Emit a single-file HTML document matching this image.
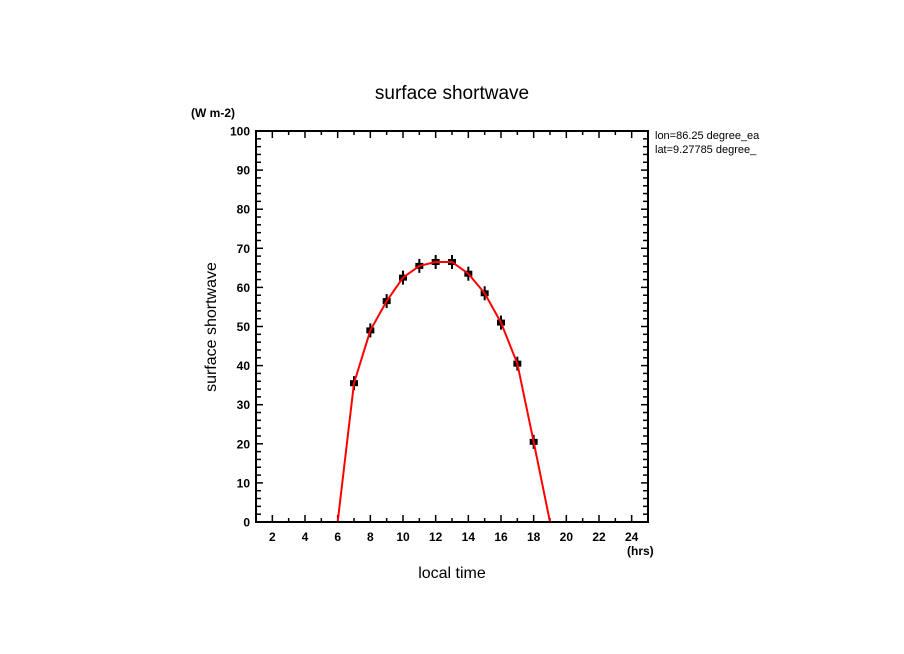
<!DOCTYPE html>
<html><head><meta charset="utf-8"><style>
body{margin:0;background:#fff}
svg{display:block;font-family:"Liberation Sans",sans-serif}
</style></head><body>
<svg id="chart" width="904" height="654" xmlns="http://www.w3.org/2000/svg">
<text x="452" y="99" font-size="19" text-anchor="middle">surface shortwave</text>
<text x="191" y="117" font-size="12" font-weight="bold">(W m-2)</text>
<text x="655" y="139" font-size="11">lon=86.25 degree_ea</text>
<text x="655" y="153" font-size="11">lat=9.27785 degree_</text>
<text x="627" y="555" font-size="12" font-weight="bold">(hrs)</text>
<text x="452" y="578" font-size="16" text-anchor="middle">local time</text>
<text transform="translate(216,327) rotate(-90)" font-size="16" text-anchor="middle">surface shortwave</text>
<g id="axes"></g>
<g id="series"></g>
<rect x="256" y="131" width="392" height="391" fill="none" stroke="#000" stroke-width="2"/>
</svg>
<script>
const hours = [1,2,3,4,5,6,7,8,9,10,11,12,13,14,15,16,17,18,19,20,21,22,23,24,25];
const values = [0,0,0,0,0,0,35.5,49,56.5,62.5,65.5,66.5,66.5,63.5,58.5,51,40.5,20.5,0,0,0,0,0,0,0];
const xTickLabels = ["2","4","6","8","10","12","14","16","18","20","22","24"];
const yTickLabels = ["0","10","20","30","40","50","60","70","80","90","100"];
const X0=256,X1=648,Y0=522,Y1=131;
const xs=h=>X0+(h-1)/24*(X1-X0);
const ys=v=>Y0-v/100*(Y0-Y1);
const NS="http://www.w3.org/2000/svg";
const ax=document.getElementById('axes'), se=document.getElementById('series');
function mk(tag,attrs,parent){const e=document.createElementNS(NS,tag);for(const k in attrs)e.setAttribute(k,attrs[k]);parent.appendChild(e);return e;}
// x ticks
for(let h=1;h<=25;h++){
  const x=xs(h), big=h%2===0, L=big?7:4;
  const t1=mk('line',{x1:x,x2:x,y1:Y0,y2:Y0-L,stroke:'#000','stroke-width':1.5},ax);
  
  
  const t2=mk('line',{x1:x,x2:x,y1:Y1,y2:Y1+L,stroke:'#000','stroke-width':1.5},ax);
  
  
}
xTickLabels.forEach(s=>{
  const t=mk('text',{x:xs(+s),y:Y0+19,'font-size':12,'font-weight':'bold','text-anchor':'middle'},ax);
  t.textContent=s;
  
  
});
for(let v=0;v<=100;v+=2){
  const y=ys(v), big=v%10===0, L=big?7:5;
  const t1=mk('line',{x1:X0,x2:X0+L,y1:y,y2:y,stroke:'#000','stroke-width':1.5},ax);
  
  
  const t2=mk('line',{x1:X1,x2:X1-L,y1:y,y2:y,stroke:'#000','stroke-width':1.5},ax);
  
  
}
yTickLabels.forEach(s=>{
  const t=mk('text',{x:X0-6,y:ys(+s)+4.5,'font-size':12,'font-weight':'bold','text-anchor':'end'},ax);
  t.textContent=s;
  
  
});
// markers
hours.forEach((h,i)=>{
  if(values[i]<=0) return;
  const g=mk('g',{},se);
  
  
  const x=xs(h), y=ys(values[i]);
  mk('rect',{x:x-4,y:y-3,width:8,height:6,fill:'#000'},g);
  mk('rect',{x:x-1,y:y-7,width:2,height:14,fill:'#000'},g);
});
const pl=mk('polyline',{points:hours.map((h,i)=>xs(h)+','+ys(values[i])).join(' '),fill:'none',stroke:'#f00','stroke-width':2},se);


</script>
</body></html>
